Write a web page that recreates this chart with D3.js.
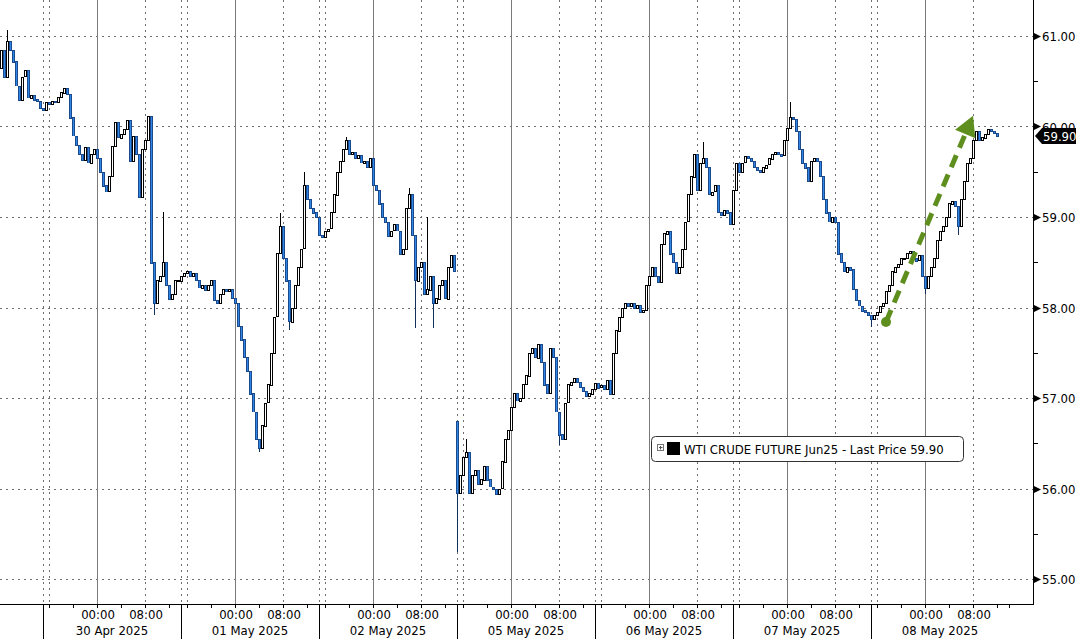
<!DOCTYPE html>
<html><head><meta charset="utf-8">
<script src="https://cdn.jsdelivr.net/npm/d3@7"></script>
<style>
html,body{margin:0;padding:0;background:#fff;}
svg{display:block;}
text{font-family:"DejaVu Sans Condensed","DejaVu Sans",sans-serif;}
</style></head>
<body>
<script>
// ---------- DATA (30-minute candles, closes) ----------
const sessionLabels = ["30 Apr 2025","01 May 2025","02 May 2025","05 May 2025","06 May 2025","07 May 2025","08 May 2025"];
const hourTickLabels = ["00:00","08:00"];
const priceTicks = [55,56,57,58,59,60,61];
const seriesName = "WTI CRUDE FUTURE Jun25 - Last Price";

const closesPre = [60.85,60.55,60.95,60.85,60.72,60.45,60.30,60.55,60.62,60.32,60.35,60.30,60.28,60.20];
const closes30Apr = [60.18,60.27,60.25,60.28,60.27,60.33,60.38,60.43,60.36,60.10,59.90,59.80,59.70,59.63,59.77,59.60,59.70,59.75,59.65,59.50,59.35,59.28,59.45,59.78,60.05,59.88,59.92,59.97,60.07,59.62,59.90,59.70,59.22,59.75,59.85,60.12,58.50,58.05,58.30,58.35,58.50,58.25,58.10,58.15,58.30,58.30];
const closes01May = [58.35,58.38,58.40,58.35,58.38,58.30,58.22,58.25,58.20,58.25,58.30,58.08,58.05,58.15,58.20,58.18,58.20,58.10,58.05,57.80,57.65,57.45,57.30,57.05,56.85,56.55,56.45,56.70,56.95,57.15,57.50,57.90,58.60,58.90,58.55,58.30,57.85,58.00,58.25,58.45,58.65,59.35,59.20,59.10,59.05,59.00];
const closes02May = [58.80,58.78,58.85,58.87,59.05,59.25,59.50,59.62,59.75,59.85,59.70,59.72,59.65,59.68,59.60,59.62,59.55,59.65,59.35,59.30,59.15,59.00,58.95,58.80,58.85,58.92,58.85,58.60,58.65,59.10,59.25,58.80,58.30,58.45,58.50,58.15,58.20,58.35,58.05,58.10,58.25,58.30,58.10,58.45,58.58,58.40];
const closes05May = [55.95,56.15,56.35,56.40,55.95,56.15,56.20,56.05,56.10,56.25,56.10,56.02,56.00,55.95,56.00,56.30,56.55,56.65,56.90,57.05,56.97,57.00,57.15,57.25,57.50,57.55,57.45,57.60,57.40,57.15,57.05,57.55,57.45,56.85,56.60,56.55,56.95,57.15,57.18,57.22,57.18,57.12,57.08,57.02,57.05,57.10];
const closes06May = [57.17,57.12,57.14,57.10,57.20,57.05,57.50,57.75,57.90,58.00,58.05,58.02,58.05,58.00,58.03,57.95,57.97,58.25,58.35,58.45,58.35,58.28,58.70,58.82,58.85,58.60,58.50,58.38,58.45,58.65,58.95,59.25,59.45,59.70,59.30,59.60,59.65,59.55,59.25,59.28,59.35,59.05,59.02,59.08,59.05,58.92];
const closes07May = [59.30,59.60,59.50,59.60,59.67,59.65,59.62,59.55,59.52,59.50,59.55,59.58,59.65,59.70,59.72,59.70,59.68,59.85,59.98,60.10,60.08,59.95,59.75,59.60,59.55,59.40,59.62,59.65,59.62,59.45,59.20,59.05,58.95,59.00,58.95,58.60,58.50,58.40,58.45,58.42,58.20,58.08,58.02,57.97,57.95,57.92];
const closes08May = [57.88,57.92,57.95,58.02,58.05,58.18,58.25,58.40,58.45,58.48,58.55,58.55,58.60,58.62,58.55,58.52,58.58,58.35,58.22,58.35,58.45,58.55,58.75,58.85,58.90,59.00,59.15,59.18,59.12,58.90,59.20,59.40,59.60,59.65,59.85,59.95,59.85,59.88,59.92,59.97,59.95,59.93,59.90];
// explicit opens where the candle does not open at the previous close (start / weekend gap)
const gapOpens = [[-14, 60.65], [138, 56.75]];
// notable wick extremes: [candle index, price]
const wickHighs = [[-12,61.07],[40,59.05],[79,59.04],[87,59.50],[101,59.88],[122,59.32],[128,59.00],[141,56.55],[220,59.83],[249,60.27]];
const wickLows = [[37,57.92],[72,56.40],[82,57.75],[124,57.77],[130,57.77],[138,55.30],[172,56.48],[276,57.78],[294,58.15],[305,58.80]];
// annotation arrow (candle index, price)
const arrowFrom = [281, 57.84];
const arrowTo = [310, 60.12];

// ---------- LAYOUT ----------
const W = 1076, H = 639;
const firstIndex = -14;
const perSession = 46;          // 23h of 30-min candles
const offMidnight = 18, offEight = 34;
const minorOffsets = [2,10,18,26,34,42];
const axisY = 604, axisX = 1033;

const allCloses = [].concat(closesPre, closes30Apr, closes01May, closes02May, closes05May, closes06May, closes07May, closes08May);
const openMap = new Map(gapOpens), hiMap = new Map(wickHighs), loMap = new Map(wickLows);
const candles = allCloses.map((c, k) => {
  const i = firstIndex + k;
  const o = openMap.has(i) ? openMap.get(i) : allCloses[k-1];
  let hi = Math.max(o, c), lo = Math.min(o, c);
  if (hiMap.has(i)) hi = Math.max(hi, hiMap.get(i));
  if (loMap.has(i)) lo = Math.min(lo, loMap.get(i));
  return {i, o, c, hi, lo};
});

const x = d3.scaleLinear().domain([-14.333, 330]).range([0, axisX]);
const y = d3.scaleLinear().domain([55, 61]).range([579, 36]);
const px = v => Math.round(v) + 0.5;

const svg = d3.select("body").append("svg").attr("width", W).attr("height", H);
svg.append("rect").attr("width", W).attr("height", H).attr("fill", "#fff");

// horizontal grid
const gridG = svg.append("g").attr("shape-rendering", "crispEdges");
gridG.selectAll("line.h").data(priceTicks).join("line")
  .attr("x1", 0).attr("x2", axisX).attr("y1", d => px(y(d))).attr("y2", d => px(y(d)))
  .attr("stroke", "#6f6f6f").attr("stroke-width", 1).attr("stroke-dasharray", "2,4");

// vertical grid
const sessions = d3.range(sessionLabels.length);
sessions.forEach(s => {
  const b = s * perSession;
  [b, b+2, b+offEight].forEach(t => {
    gridG.append("line").attr("x1", px(x(t))).attr("x2", px(x(t)))
      .attr("y1", 0).attr("y2", axisY).attr("stroke", "#6f6f6f").attr("stroke-dasharray", "2,4");
  });
  gridG.append("line").attr("x1", px(x(b+offMidnight))).attr("x2", px(x(b+offMidnight)))
    .attr("y1", 0).attr("y2", axisY).attr("stroke", "#7a7a7a").attr("stroke-width", 1);
});

// candles
const cg = svg.append("g").attr("shape-rendering", "crispEdges");
const upFill = "#ffffff", upStroke = "#000000", dnFill = "#2f86e6", dnStroke = "#1b4a8c";
const isUp = d => d.c >= d.o;
cg.selectAll("line.w").data(candles.filter(d => d.hi - d.lo > 0)).join("line")
  .attr("x1", d => px(x(d.i))).attr("x2", d => px(x(d.i)))
  .attr("y1", d => y(d.hi)).attr("y2", d => y(d.lo))
  .attr("stroke", d => isUp(d) ? upStroke : "#13305c").attr("stroke-width", 1);
cg.selectAll("rect").data(candles).join("rect")
  .attr("x", d => Math.round(x(d.i)) - 0.5).attr("width", 2)
  .attr("y", d => Math.round(y(Math.max(d.o, d.c))) + 0.5)
  .attr("height", d => Math.max(1, Math.round(Math.abs(y(d.o) - y(d.c)))))
  .attr("fill", d => isUp(d) ? upFill : dnFill)
  .attr("stroke", d => isUp(d) ? upStroke : dnStroke).attr("stroke-width", 1);
// bright inner fill for falling candles
cg.selectAll("line.dn").data(candles.filter(d => !isUp(d))).join("line")
  .attr("x1", d => px(x(d.i))).attr("x2", d => px(x(d.i)))
  .attr("y1", d => Math.round(y(d.o)) + 1).attr("y2", d => Math.round(y(d.c)))
  .attr("stroke", dnFill).attr("stroke-width", 1);

// annotation arrow
const green = "#5e8f1e";
const ax0 = x(arrowFrom[0]), ay0 = y(arrowFrom[1]), ax1 = x(arrowTo[0]), ay1 = y(arrowTo[1]);
const dx = ax1 - ax0, dy = ay1 - ay0, len = Math.hypot(dx, dy), ux = dx/len, uy = dy/len;
const headLen = 20, headHalf = 11;
const bx = ax1 - ux*headLen, by = ay1 - uy*headLen;
svg.append("line").attr("x1", ax0).attr("y1", ay0).attr("x2", bx).attr("y2", by)
  .attr("stroke", green).attr("stroke-width", 5).attr("stroke-dasharray", "13,8");
svg.append("path").attr("d", `M${ax1},${ay1}L${bx - uy*headHalf},${by + ux*headHalf}L${bx + uy*headHalf},${by - ux*headHalf}Z`).attr("fill", green);
svg.append("circle").attr("cx", ax0).attr("cy", ay0).attr("r", 5).attr("fill", green);

// right axis
const ra = svg.append("g");
ra.append("line").attr("x1", axisX+0.5).attr("x2", axisX+0.5).attr("y1", 0).attr("y2", axisY).attr("stroke", "#000");
ra.selectAll("path.maj").data(priceTicks).join("path")
  .attr("d", d => { const yy = px(y(d)); return `M${axisX+1},${yy-3.5}L${axisX+8},${yy}L${axisX+1},${yy+3.5}Z`; })
  .attr("fill", "#000");
ra.selectAll("line.min").data(priceTicks.slice(0,-1).map(d => d + 0.5)).join("line")
  .attr("x1", axisX).attr("x2", axisX+5).attr("y1", d => px(y(d))).attr("y2", d => px(y(d)))
  .attr("stroke", "#000");
ra.selectAll("text").data(priceTicks).join("text")
  .attr("x", axisX+9).attr("y", d => y(d) + 5).attr("font-size", 13).attr("fill", "#000")
  .text(d => d3.format(".2f")(d));

// last price tag
const last = allCloses[allCloses.length-1];
const ly = Math.round(y(last));
svg.append("path").attr("d", `M${axisX+2},${ly}L${axisX+9},${ly-8}L${W},${ly-8}L${W},${ly+8}L${axisX+9},${ly+8}Z`).attr("fill", "#000");
svg.append("text").attr("x", axisX+10).attr("y", ly+5).attr("font-size", 13).attr("fill", "#fff").text(d3.format(".2f")(last));

// bottom axis
const ba = svg.append("g");
ba.append("line").attr("x1", 0).attr("x2", axisX+1).attr("y1", axisY+0.5).attr("y2", axisY+0.5).attr("stroke", "#000");
sessions.forEach(s => {
  const b = s * perSession;
  ba.append("line").attr("x1", px(x(b))).attr("x2", px(x(b))).attr("y1", axisY).attr("y2", H).attr("stroke", "#000");
  minorOffsets.forEach(t => {
    ba.append("line").attr("x1", px(x(b+t))).attr("x2", px(x(b+t)))
      .attr("y1", axisY).attr("y2", axisY+4).attr("stroke", "#000");
  });
  [offMidnight, offEight].forEach((t, j) => {
    ba.append("text").attr("x", x(b+t)+1).attr("y", axisY+15).attr("text-anchor", "middle")
      .attr("font-size", 13).attr("fill", "#000").text(hourTickLabels[j]);
  });
  ba.append("text").attr("x", x(b + perSession/2)).attr("y", axisY+31).attr("text-anchor", "middle")
    .attr("font-size", 13).attr("fill", "#000").text(sessionLabels[s]);
});
ba.append("line").attr("x1", px(x(sessions.length*perSession))).attr("x2", px(x(sessions.length*perSession)))
  .attr("y1", axisY).attr("y2", axisY+4).attr("stroke", "#000");

// legend
const lg = svg.append("g");
lg.append("rect").attr("x", 651.5).attr("y", 436.5).attr("width", 312).attr("height", 25).attr("rx", 4)
  .attr("fill", "#fff").attr("stroke", "#333");
lg.append("rect").attr("x", 657.5).attr("y", 444.5).attr("width", 6).attr("height", 6).attr("fill", "#fff").attr("stroke", "#777");
lg.append("path").attr("d", "M659,447.5H662.5M660.5,446V449.5").attr("stroke", "#555").attr("stroke-width", 1);
lg.append("rect").attr("x", 667).attr("y", 442).attr("width", 13).attr("height", 13).attr("fill", "#000");
lg.append("text").attr("x", 684).attr("y", 454).attr("font-size", 13).attr("fill", "#000")
  .text(seriesName + " " + d3.format(".2f")(last));
</script>
</body></html>
